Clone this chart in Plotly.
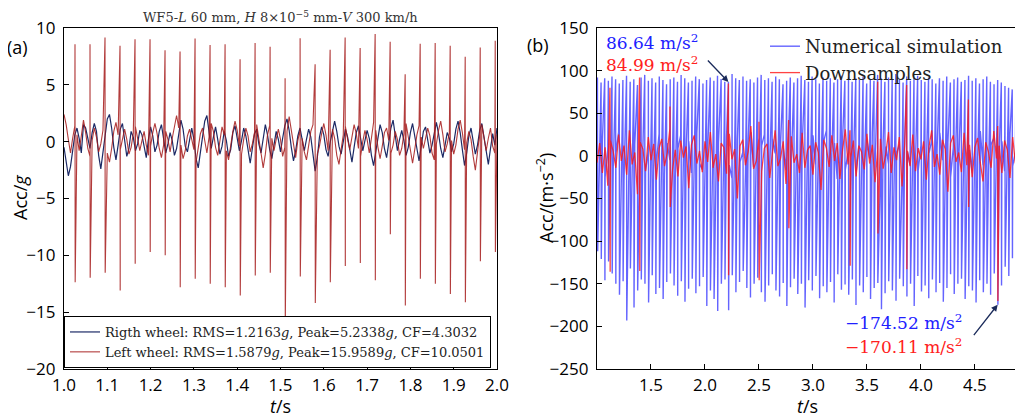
import numpy as np
import plotly.graph_objects as go

# ================= Panel (a): WF5 wheel accelerations (unit g) =================
A_T0, A_DT = 1.0, 0.005          # background sampling of the traces
right_wheel = [
    -0.5, -1.8, -3.0, -2.2, -0.8, 0.6, 1.2, 0.3, -1.0, 1.5, 1.2, 0.4, -0.6, 0.8, 1.6, 0.9, -1.2, -2.4, -1.0, 0.8,
    2.0, 2.4, 1.2, -0.5, -1.6, -0.3, 1.1, 1.6, 0.2, -1.3, -0.6, 0.9, 0.4, -0.8, -0.2, 1.0, 0.6, -0.6, -1.4, 0.2,
    1.3, 0.5, -0.9, -0.3, 0.9, 1.5, 0.4, -1.0, -0.2, 0.8, 0.1, -1.2, -0.6, 0.7, 1.9, 1.1, -0.4, -0.9, 0.3, 1.2,
    0.2, -1.5, -2.3, -1.0, 0.6, 1.8, 2.3, 1.0, -0.6, 0.4, 1.3, 0.2, -1.1, -0.4, 0.9, 0.1, -1.3, -0.7, 0.8, 1.4,
    0.3, -0.8, 0.1, 1.2, 0.5, -0.9, -1.9, -0.6, 0.7, 1.1, -0.2, -1.0, 0.4, 1.5, 0.6, -0.7, -1.5, -0.3, 0.9, 0.2,
    -0.9, 0.3, 1.4, 2.0, 1.0, -0.5, -1.7, -0.8, 0.5, 1.2, 0.3, -0.8, 0.2, 1.1, 0.4, -1.0, -2.6, -1.4, 0.4, 1.3,
    0.6, -0.7, -1.3, 0.0, 1.0, 1.8, 0.9, -0.4, -1.1, 0.2, 1.1, 0.4, -0.9, -1.8, -0.5, 0.8, 1.4, 0.3, -0.8, 0.1,
    1.0, 0.3, -1.2, -2.1, -0.9, 0.7, 1.5, 0.8, -0.6, -1.4, 0.0, 1.2, 1.9, 0.6, -0.8, 0.2, 1.0, 0.1, -1.2, -0.5,
    0.8, 1.6, 0.5, -0.9, -1.7, -0.4, 0.9, 1.3, 0.2, -1.0, -0.3, 0.9, 1.7, 0.7, -0.6, -1.4, -0.2, 0.8, 0.3, -0.9,
    -0.2, 1.1, 1.8, 0.8, -0.7, -2.1, -1.0, 0.5, 1.2, 0.1, -1.1, -0.3, 1.0, 1.6, 0.4, -1.2, -2.0, -0.6, 0.7, -0.3,
    1.2,
]
left_wheel_bg = [
    2.4, 1.5, 0.2, -1.0, 0.3, 1.4, 0.6, -0.8, 0.5, 1.9, 0.8, -0.6, -1.3, 0.1, 1.2, 0.4, -0.9, -0.2, 1.0, 0.3,
    -1.0, -1.8, -0.6, 0.9, 1.7, 0.6, -0.7, 0.2, 1.1, 0.2, -1.1, -0.5, 0.7, 1.3, 0.3, -0.8, 0.1, 0.9, -0.3, -1.2,
    -0.4, 0.8, 1.6, 0.7, -0.6, -1.4, -0.3, 0.9, 0.2, -0.9, 0.3, 1.4, 2.3, 1.2, -0.3, -1.5, -0.8, 0.5, 1.1, 0.2,
    -0.7, -1.8, -0.6, 0.7, 1.2, 0.1, -1.0, 0.4, 1.6, 0.9, -0.5, -1.2, 0.0, 1.3, 0.6, -0.8, -1.6, -0.3, 0.9, 1.8,
    1.0, -0.4, -1.1, 0.2, 1.2, 0.5, -0.9, -0.2, 0.8, 1.5, 0.4, -1.0, -2.3, -1.1, 0.6, 1.4, 0.3, -0.8, 0.2, 1.1,
    0.2, -1.3, -0.5, 0.9, 2.2, 1.0, -0.6, -1.4, 0.1, 1.0, 0.3, -0.9, -1.6, -0.2, 0.9, 1.5, 0.4, -1.1, -0.4, 0.7,
    1.6, 0.6, -0.8, -0.1, 1.1, 0.3, -1.2, -2.0, -0.7, 0.6, 1.3, 0.2, -0.7, 0.4, 1.5, 0.7, -0.6, -1.3, 0.0, 1.0,
    0.2, -1.0, 0.3, 1.7, 1.0, -0.5, -1.5, -0.4, 0.8, 1.2, 0.1, -1.0, -0.3, 0.9, 0.2, -1.2, -0.6, 0.7, 1.6, 0.5,
    -0.8, -1.9, -0.7, 0.6, 1.4, 0.4, -0.6, 0.3, 1.2, 0.5, -1.0, -1.6, -0.2, 1.0, 1.8, 0.6, -0.9, -0.2, 0.8, 0.1,
    -1.1, -0.3, 1.1, 1.9, 0.8, -0.7, -0.1, 0.9, 0.2, -1.3, -2.5, -0.9, 0.7, 1.5, 0.4, -0.8, 0.3, 1.2, -0.4, -1.0,
    0.6,
]
A_SPIKE_T0, A_SPIKE_PERIOD = 1.0254, 0.03466   # wheel-flat impact instants
left_spike_top = [8.58, 8.58, 9.17, 8.44, 9.00, 9.00, 8.05, 7.94, 9.08, 8.50,
                  8.58, 7.26, 8.67, 8.35, 5.58, 9.10, 6.80, 8.08, 9.17, 8.23,
                  9.47, 8.79, 5.93, 8.61, 8.67, 8.44, 7.46, 8.29, 8.88]
left_spike_bottom = [-12.36, -11.98, -11.53, -13.10, -10.74, -9.70, -10.00, -12.80, -12.06, -12.50,
                     -12.80, -13.54, -11.77, -11.53, -15.96, -11.86, -14.20, -12.36, -10.94, -10.68,
                     -12.20, -8.14, -14.42, -12.06, -12.50, -13.40, -14.13, -10.53, -9.70]

legend_a = ["Rigth wheel: RMS=1.2163<i>g</i>, Peak=5.2338<i>g</i>, CF=4.3032",
            "Left wheel: RMS=1.5879<i>g</i>, Peak=15.9589<i>g</i>, CF=10.0501"]

# ================= Panel (b): simulation vs downsampled (m/s^2) =================
B_T0, B_DT = 1.0, 0.025
sim_bg = [
    5, -12, 18, -25, 8, 22, -15, 3, 28, -10, -30, 12, 25, -6, 14, -20, 30, 10, -18, 6,
    20, -14, -8, 26, 4, -22, 15, -5, 18, -28, 9, 24, -12, 2, 17, -20, 11, 27, -9, -16,
    13, 6, -24, 21, -3, 15, -18, 8, 23, -11, -26, 10, 19, -7, 4, -21, 16, 28, -13, 7,
    -19, 12, 25, -4, -15, 20, 3, -23, 14, 9, -17, 27, -8, 5, 22, -25, 11, -2, 18, -14,
    24, -10, 6, -20, 17, 30, -12, 1, 15, -27, 9, 21, -16, 4, 26, -6, -19, 13, 8, -22,
    19, -3, 28, -15, 7, -24, 16, 11, -9, 23, -18, 2, 14, -26, 20, 5, -11, 25, -7, -17,
    12, 22, -14, 3, 18, -21, 9, 27, -5, -13, 16, -25, 10, 20, -8, 1, 24, -16, 7, -20,
    15, -4, 29, -11, 6, -23, 13, 21, -9, 4, 17, -18, 10, 26, -12, 5,
]
down_bg = [
    -8, 15, -20, 10, -35, 18, 5, -14, 25, -6, 12, -22, 30, -10, 4, -45, 16, 8, -18, 22,
    -5, 14, -28, 9, 20, -12, 3, 32, -16, 7, -24, 18, -2, 11, -38, 13, 24, -9, 6, -19,
    17, -7, 28, -14, 2, -30, 15, 10, -21, 26, -4, 8, -50, 12, 19, -11, 5, 35, -15, -6,
    21, -18, 9, 14, -26, 4, 30, -12, -3, 17, -33, 11, 23, -8, 2, -20, 27, -14, 7, 12,
    -22, 16, 4, -40, 19, 9, -13, 24, -6, 15, -27, 8, 31, -10, -2, 18, -24, 12, 5, -16,
    26, -9, 13, -31, 7, 20, -15, 3, 28, -20, 10, -5, 22, -36, 14, 6, -12, 25, -18, 9,
    -4, 17, -28, 11, 30, -13, 2, -22, 19, 8, -42, 15, 24, -7, 4, -19, 27, -11, 13, -25,
    10, 21, -8, -30, 16, 5, -14, 29, -3, 12, -20, 18, 7, -26, 22, -9,
]
B_SPIKE_T0, B_SPIKE_PERIOD = 1.004, 0.0337
sim_spike_top = [
    92, 86, 91, 88, 93, 90, 85, 89, 94, 87, 90, 83, 92, 95, 88, 91, 86, 93, 89, 84,
    90, 92, 87, 95, 91, 86, 88, 93, 90, 85, 89, 92, 88, 94, 90, 87, 86.64, 96, 91, 89,
    93, 88, 90, 86, 92, 95, 89, 91, 87, 93, 90, 84, 88, 92, 86, 91, 94, 89, 87, 93,
    90, 85, 92, 88, 91, 86, 90, 94, 88, 92, 87, 91, 89, 93, 85, 90, 88, 95, 91, 87,
    92, 89, 96, 90, 86, 93, 88, 91, 94, 89, 87, 92, 90, 85, 91, 88, 93, 86, 90, 92,
    87, 89, 94, 88, 91, 85, 90, 93, 87, 84, 89, 86, 82, 80, 78, 75,
]
sim_spike_bottom = [
    -112, -121, -146, -124, -138, -150, -163, -147, -193, -132,
    -178, -158, -145, -150, -172, -140, -162, -155, -168, -148,
    -138, -152, -164, -147, -171, -156, -144, -161, -153, -142,
    -176, -158, -168, -182, -150, -145, -181, -140, -160, -148,
    -135, -155, -166, -150, -143, -160, -171, -152, -139, -158,
    -165, -149, -176, -154, -144, -162, -150, -178, -146, -158,
    -141, -167, -153, -160, -148, -172, -139, -157, -151, -163,
    -145, -175, -152, -160, -142, -168, -155, -149, -180, -161,
    -147, -158, -170, -144, -153, -165, -150, -176, -141, -159,
    -152, -167, -145, -160, -149, -171, -155, -139, -162, -150,
    -144, -168, -153, -158, -172, -146, -160, -150, -163, -138,
    -174.52, -152, -130, -141, -120, -100,
]
down_spike_t = [1.120, 1.394, 1.676, 2.217, 2.500, 2.775, 3.343, 3.600, 3.868, 4.440, 4.711]
down_spike_top = [80, 92, 58, 84.99, 40, 42, 30, 87, 83, 66, 35]
down_spike_bottom = [-136, -135, -60, -140, -146, -85, -129, -91, -133, -60, -170.11]

# ============================ helpers ============================
def merge(bg, t0, dt, sp_t, sp_top, sp_bot, eps):
    bg = np.asarray(bg, float)
    bt = t0 + dt * np.arange(len(bg))
    sp_t = np.asarray(sp_t, float)
    t = np.concatenate([bt, sp_t, sp_t + eps])
    v = np.concatenate([bg, np.asarray(sp_top, float), np.asarray(sp_bot, float)])
    o = np.argsort(t, kind="stable")
    return t[o], v[o]

a_rt = A_T0 + A_DT * np.arange(len(right_wheel))
a_spike_t = A_SPIKE_T0 + A_SPIKE_PERIOD * np.arange(len(left_spike_top))
a_lt, a_lv = merge(left_wheel_bg, A_T0, A_DT, a_spike_t, left_spike_top, left_spike_bottom, 0.0004)

b_spike_t = B_SPIKE_T0 + B_SPIKE_PERIOD * np.arange(len(sim_spike_top))
b_st, b_sv = merge(sim_bg, B_T0, B_DT, b_spike_t, sim_spike_top, sim_spike_bottom, 0.002)
b_dt, b_dv = merge(down_bg, B_T0, B_DT, down_spike_t, down_spike_top, down_spike_bottom, 0.002)

# ============================ figure ============================
# the page body has an 8 px margin, so the figure is drawn 8 px in from the top-left corner
OFF = 8
W, H = 1023 - OFF, 420 - OFF
def px(x): return (x - OFF) / W
def py(y): return 1 - (y - OFF) / H

TICK_FONT = dict(family="Open Sans", size=17, color="black")
SERIF = "DejaVu Serif"

fig = go.Figure()
fig.add_trace(go.Scatter(x=a_rt, y=right_wheel, mode="lines", name=legend_a[0],
                         line=dict(color="#1c2a66", width=1.2), xaxis="x", yaxis="y", legend="legend"))
fig.add_trace(go.Scatter(x=a_lt, y=a_lv, mode="lines", name=legend_a[1],
                         line=dict(color="rgba(165,25,25,0.85)", width=1.1), xaxis="x", yaxis="y", legend="legend"))
fig.add_trace(go.Scatter(x=b_st, y=b_sv, mode="lines", name="Numerical simulation",
                         line=dict(color="rgba(40,40,255,0.72)", width=1.4), xaxis="x2", yaxis="y2", legend="legend2"))
fig.add_trace(go.Scatter(x=b_dt, y=b_dv, mode="lines", name="Downsamples",
                         line=dict(color="rgba(255,20,20,0.8)", width=1.3), xaxis="x2", yaxis="y2", legend="legend2"))

ax_common = dict(showline=True, linecolor="black", linewidth=1.2, mirror=True, ticks="inside",
                 ticklen=5, tickcolor="black", showgrid=False, zeroline=False, tickfont=TICK_FONT,
                 automargin=False)
ydom = [py(369), py(28)]
fig.update_layout(
    template="none",
    width=W, height=H, autosize=False,
    margin=dict(l=0, r=0, t=0, b=0, pad=0),
    paper_bgcolor="white", plot_bgcolor="white",
    font=dict(family="Open Sans", color="black"),
    xaxis=dict(domain=[px(64), px(497)], range=[1.0, 2.0], tickmode="array",
               tickvals=[1.0 + 0.1 * i for i in range(11)], tickformat=".1f", anchor="y", **ax_common),
    yaxis=dict(domain=ydom, range=[-20, 10], tickvals=[-20, -15, -10, -5, 0, 5, 10], anchor="x",
               ticklabelstandoff=4, **ax_common),
    xaxis2=dict(domain=[px(597), px(1017)], range=[1.0, 4.89], tickvals=[1.5, 2.0, 2.5, 3.0, 3.5, 4.0, 4.5],
                tickformat=".1f", anchor="y2", **ax_common),
    yaxis2=dict(domain=ydom, range=[-250, 150], tickvals=list(range(-250, 151, 50)), anchor="x2",
                ticklabelstandoff=4, **ax_common),
    legend=dict(x=px(64), y=py(368), xanchor="left", yanchor="bottom", bgcolor="white",
                bordercolor="black", borderwidth=1, font=dict(family=SERIF, size=13, color="#222")),
    legend2=dict(x=px(765), y=py(28), xanchor="left", yanchor="top", bgcolor="rgba(0,0,0,0)",
                 borderwidth=0, font=dict(family=SERIF, size=18, color="#222")),
    showlegend=True,
)

ann = []
def text(x, y, s, size=17, color="black", family="Open Sans", angle=0, xanchor="center"):
    ann.append(dict(x=px(x), y=py(y), xref="paper", yref="paper", text=s, showarrow=False,
                    font=dict(family=family, size=size, color=color), textangle=angle,
                    xanchor=xanchor, yanchor="middle"))

text(280, 17, "WF5-<i>L</i> 60 mm, <i>H</i> 8×10<sup>−5</sup> mm-<i>V</i> 300 km/h", size=13, color="#333", family=SERIF)
text(17, 47, "(a)", size=18)
text(538, 45, "(b)", size=18)
text(20, 198, "Acc/<i>g</i>", size=18, angle=-90)
text(545, 198, "Acc/(m·s<sup>−2</sup>)", size=18, angle=-90)
text(280, 406, "<i>t</i>/s", size=18)
text(807, 406, "<i>t</i>/s", size=18)
text(604, 42, "86.64 m/s<sup>2</sup>", size=17, color="#2020ff", family=SERIF, xanchor="left")
text(604, 64, "84.99 m/s<sup>2</sup>", size=17, color="#ff2020", family=SERIF, xanchor="left")
text(903, 322, "−174.52 m/s<sup>2</sup>", size=17, color="#2020ff", family=SERIF)
text(903, 346, "−170.11 m/s<sup>2</sup>", size=17, color="#ff2020", family=SERIF)

# arrows pointing at the annotated peaks
ann.append(dict(x=b_spike_t[36], y=sim_spike_top[36], xref="x2", yref="y2",
                ax=-22, ay=-23, text="", showarrow=True,
                arrowhead=2, arrowsize=1, arrowwidth=1.3, arrowcolor="#1a2a5a"))
ann.append(dict(x=down_spike_t[-1], y=sim_spike_bottom[110], xref="x2", yref="y2",
                ax=-25, ay=32, text="", showarrow=True,
                arrowhead=2, arrowsize=1, arrowwidth=1.3, arrowcolor="#1a2a5a"))
fig.update_layout(annotations=ann)

fig.write_html("out.html")
